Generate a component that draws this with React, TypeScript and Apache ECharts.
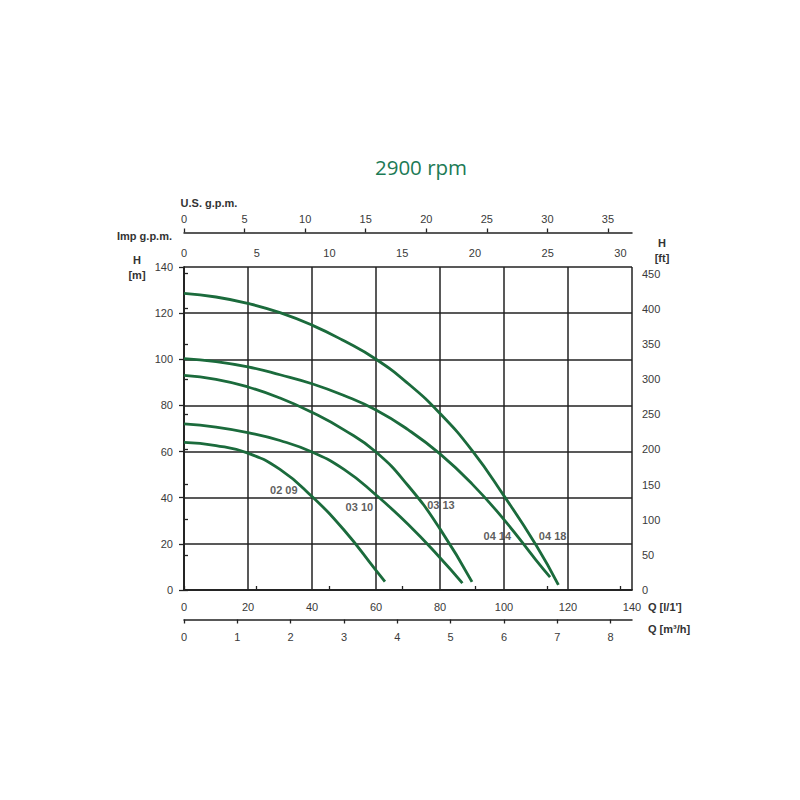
import React, { useEffect, useRef } from "react";
import * as echarts from "echarts";

// ---- data ----
const Q_MAX = 140; // l/min
const H_MAX = 140; // m
const FT_PER_M = 3.28084;
const L_PER_IMP_GAL = 4.54609;
const L_PER_US_GAL = 3.78541;
const M3H_PER_LMIN = 0.06;

const ftTicks = [0, 50, 100, 150, 200, 250, 300, 350, 400, 450];
const impTicks = [0, 5, 10, 15, 20, 25, 30];
const usTicks = [0, 5, 10, 15, 20, 25, 30, 35];
const m3hTicks = [0, 1, 2, 3, 4, 5, 6, 7, 8];

const curveNames = ["02 09", "03 10", "03 13", "04 14", "04 18"];

const q0209 = [0, 10, 20, 30, 40, 50, 60, 62.8];
const h0209 = [64, 62.6, 59.3, 52.3, 40.5, 26, 8.5, 3.6];

const q0310 = [0, 10, 20, 30, 40, 50, 60, 70, 80, 87];
const h0310 = [72, 70.6, 68.2, 64.8, 59.8, 52.3, 41.2, 28.5, 14, 3];

const q0313 = [0, 10, 20, 30, 40, 50, 60, 70, 80, 90];
const h0313 = [93, 91.3, 88, 83.2, 77, 69.4, 59.8, 45.3, 26.5, 3.5];

const q0414 = [0, 10, 20, 30, 40, 50, 60, 70, 80, 90, 100, 110, 114.4];
const h0414 = [100.3, 99, 96.7, 93.3, 89.4, 84.3, 78, 69.5, 59, 46, 30.5, 13, 5.6];

const q0418 = [0, 10, 20, 30, 40, 50, 60, 70, 80, 90, 100, 110, 117];
const h0418 = [128.6, 127, 124.2, 120.2, 114.8, 108, 100, 89.5, 76.5, 60.5, 40.8, 19.5, 2.2];

const curveQ = [q0209, q0310, q0313, q0414, q0418];
const curveH = [h0209, h0310, h0313, h0414, h0418];

const labelQ = [31.2, 54.8, 80.3, 97.9, 115.2];
const labelH = [43.3, 36.1, 36.8, 23.5, 23.5];

// ---- styles ----
const FONT = "'Liberation Sans', Arial, sans-serif";
const GRID_COLOR = "#222";
const LABEL_COLOR = "#3a3a3a";
const CURVE_COLOR = "#1b6b3c";

export default function App() {
  const ref = useRef<HTMLDivElement>(null);

  useEffect(() => {
    if (!ref.current) return;
    const chart = echarts.init(ref.current, null, { renderer: "svg" });

    const axisLine = { show: true, lineStyle: { color: GRID_COLOR, width: 1.5 } };
    const lbl = (margin: number, extra: any = {}) => ({
      margin,
      fontSize: 11,
      color: LABEL_COLOR,
      fontFamily: FONT,
      ...extra,
    });
    const tick = (length: number, values?: number[]) => ({
      show: true,
      length,
      ...(values ? { customValues: values } : {}),
      lineStyle: { color: GRID_COLOR, width: 1.3 },
    });

    const series: any[] = curveNames.map((name, i) => ({
      name,
      type: "line",
      xAxisIndex: 0,
      yAxisIndex: 0,
      data: curveQ[i].map((q, j) => [q, curveH[i][j]]),
      showSymbol: false,
      smooth: 0.5,
      lineStyle: { color: CURVE_COLOR, width: 2.8 },
      z: 3,
    }));

    series.push({
      type: "scatter",
      xAxisIndex: 0,
      yAxisIndex: 0,
      symbolSize: 1,
      itemStyle: { color: "rgba(0,0,0,0)" },
      data: curveNames.map((n, i) => ({ value: [labelQ[i], labelH[i]], name: n })),
      label: {
        show: true,
        position: "inside",
        formatter: (p: any) => p.name,
        fontSize: 11,
        fontWeight: "bold",
        color: "#333",
        fontFamily: FONT,
      },
      z: 4,
    });

    const boldTxt = (text: string, x: number, y: number, align = "center") => ({
      type: "text",
      x,
      y,
      style: {
        text,
        fill: "#333",
        font: `bold 11px ${FONT}`,
        textAlign: align,
        textVerticalAlign: "middle",
      },
    });

    chart.setOption({
      animation: false,
      backgroundColor: "#fff",
      grid: { left: 184, right: 168, top: 267, bottom: 210, containLabel: false },
      xAxis: [
        {
          type: "value",
          position: "bottom",
          min: 0,
          max: Q_MAX,
          interval: 20,
          axisLine,
          axisTick: { show: false },
          axisLabel: lbl(11),
          splitLine: { show: true, lineStyle: { color: GRID_COLOR, width: 1.5 } },
        },
        {
          type: "value",
          position: "top",
          min: 0,
          max: Q_MAX / L_PER_IMP_GAL,
          interval: 5,
          axisLine,
          axisTick: tick(4, impTicks),
          axisLabel: lbl(9, { customValues: impTicks }),
          splitLine: { show: false },
        },
        {
          type: "value",
          position: "top",
          offset: 34.5,
          min: 0,
          max: Q_MAX / L_PER_US_GAL,
          interval: 5,
          axisLine,
          axisTick: tick(4, usTicks),
          axisLabel: lbl(8, { customValues: usTicks }),
          splitLine: { show: false },
        },
        {
          type: "value",
          position: "bottom",
          offset: 29.5,
          min: 0,
          max: Q_MAX * M3H_PER_LMIN,
          interval: 1,
          axisLine,
          axisTick: tick(4, m3hTicks),
          axisLabel: lbl(12, { customValues: m3hTicks }),
          splitLine: { show: false },
        },
      ],
      yAxis: [
        {
          type: "value",
          position: "left",
          min: 0,
          max: H_MAX,
          interval: 20,
          axisLine,
          axisTick: tick(5),
          axisLabel: lbl(11),
          splitLine: { show: true, lineStyle: { color: GRID_COLOR, width: 1.5 } },
        },
        {
          type: "value",
          position: "right",
          min: 0,
          max: H_MAX * FT_PER_M,
          interval: 50,
          axisLine,
          axisTick: tick(4, ftTicks),
          axisLabel: lbl(10, { customValues: ftTicks }),
          splitLine: { show: false },
        },
      ],
      graphic: [
        {
          type: "text",
          x: 421,
          y: 167,
          style: {
            text: "2900 rpm",
            fill: "#1c7a55",
            font: `20.5px 'Open Sans', sans-serif`,
            textAlign: "center",
            textVerticalAlign: "middle",
          },
        },
        boldTxt("U.S. g.p.m.", 209, 203),
        boldTxt("Imp g.p.m.", 172, 236, "right"),
        boldTxt("H", 137, 260),
        boldTxt("[m]", 137, 275),
        boldTxt("H", 662, 243),
        boldTxt("[ft]", 662, 258),
        boldTxt("Q [l/1']", 648, 607, "left"),
        boldTxt("Q [m³/h]", 648, 629, "left"),
      ],
      series,
    });

    return () => chart.dispose();
  }, []);

  return (
    <div
      ref={ref}
      style={{ position: "absolute", left: 0, top: 0, width: 800, height: 800, background: "#fff" }}
    />
  );
}
